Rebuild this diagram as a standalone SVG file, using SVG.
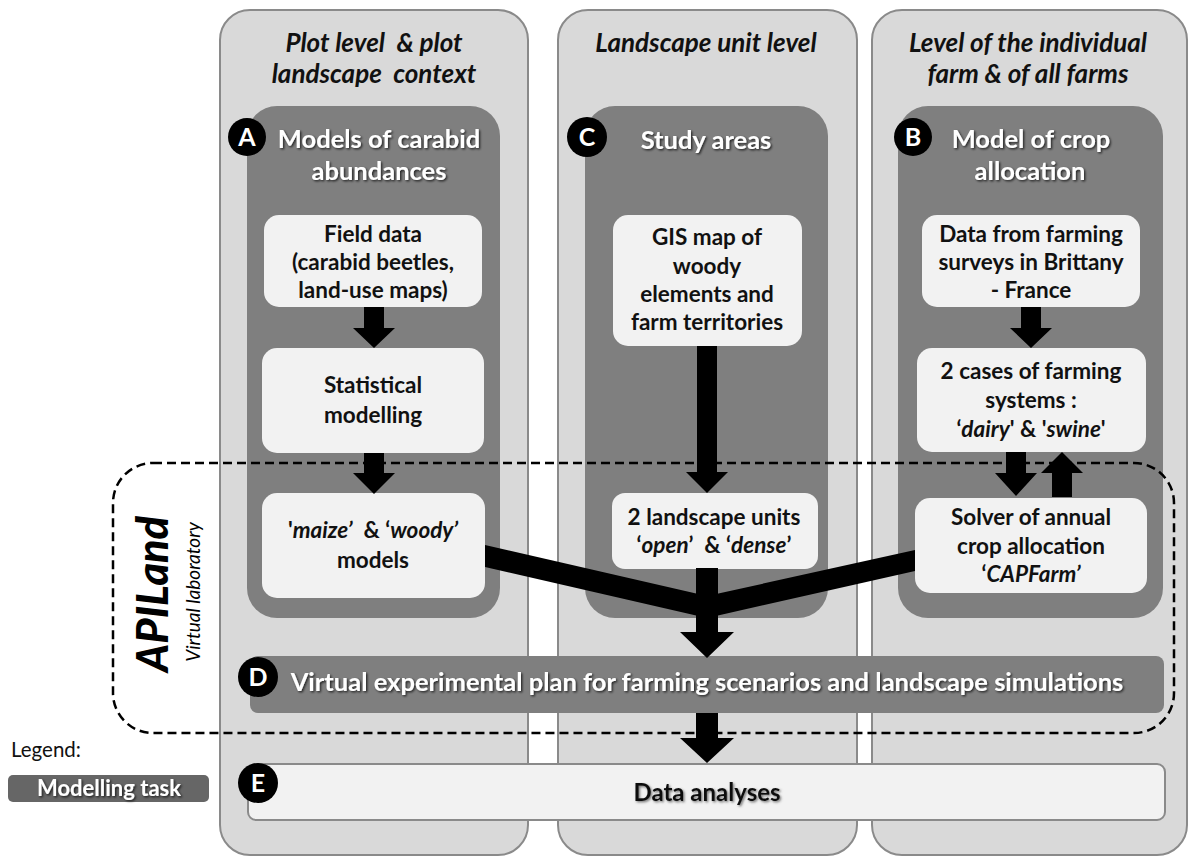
<svg xmlns="http://www.w3.org/2000/svg" width="1188" height="856" viewBox="0 0 1188 856">
<defs>
<style>
.col{fill:#d9d9d9;stroke:#8a8a8a;stroke-width:2}
.dark{fill:#7f7f7f}
.box{fill:#f2f2f2}
.ct{font-family:Lato,"Liberation Sans",sans-serif;font-style:italic;font-weight:bold;font-size:26px;fill:#111;text-anchor:middle}
.pt{font-family:Lato,"Liberation Sans",sans-serif;font-weight:bold;font-size:25.5px;fill:#fff;text-anchor:middle}
.bt{font-family:Lato,"Liberation Sans",sans-serif;font-weight:bold;font-size:22.5px;fill:#111;text-anchor:middle}
.it{font-style:italic}
.circ{fill:#000}
.lt{font-family:Lato,"Liberation Sans",sans-serif;font-weight:bold;font-size:25px;fill:#fff;text-anchor:middle}
.arr{fill:#000}
</style>
<filter id="sh" x="-10%" y="-30%" width="120%" height="160%">
<feDropShadow dx="1.3" dy="1.3" stdDeviation="0.9" flood-color="#000" flood-opacity="0.75"/>
</filter>
<filter id="shl" x="-10%" y="-30%" width="120%" height="160%">
<feDropShadow dx="1.3" dy="1.3" stdDeviation="0.9" flood-color="#555" flood-opacity="0.8"/>
</filter>
</defs>

<g id="col-plot">
<rect class="col" x="220" y="10" width="308" height="845" rx="30"/>
<text class="ct" x="374" y="52" xml:space="preserve">Plot level  &amp; plot</text>
<text class="ct" x="374" y="83" xml:space="preserve">landscape  context</text>
</g>
<g id="col-landscape">
<rect class="col" x="558" y="10" width="299" height="845" rx="30"/>
<text class="ct" x="706" y="52">Landscape unit level</text>
</g>
<g id="col-farm">
<rect class="col" x="872" y="10" width="315" height="845" rx="30"/>
<text class="ct" x="1028" y="52">Level of the individual</text>
<text class="ct" x="1028" y="83">farm &amp; of all farms</text>
</g>

<g id="panel-A">
<rect class="dark" x="247" y="106" width="253" height="512" rx="30"/>
<text class="pt" x="379" y="148" filter="url(#sh)">Models of carabid</text>
<text class="pt" x="379" y="180" filter="url(#sh)">abundances</text>
<circle class="circ" cx="247" cy="137" r="19"/>
<text class="lt" x="247" y="146">A</text>
</g>
<g id="panel-C">
<rect class="dark" x="585" y="106" width="243" height="512" rx="30"/>
<text class="pt" x="706" y="149" filter="url(#sh)">Study areas</text>
<circle class="circ" cx="587" cy="137" r="20"/>
<text class="lt" x="587" y="146">C</text>
</g>
<g id="panel-B">
<rect class="dark" x="898" y="106" width="265" height="512" rx="30"/>
<text class="pt" x="1031" y="148" filter="url(#sh)">Model of crop</text>
<text class="pt" x="1030" y="180" filter="url(#sh)">allocation</text>
<circle class="circ" cx="913" cy="137" r="19"/>
<text class="lt" x="913" y="146">B</text>
</g>

<g id="box-field-data">
<rect class="box" x="264" y="215" width="218" height="92" rx="15"/>
<text class="bt" x="373" y="242">Field data</text>
<text class="bt" x="373" y="270">(carabid beetles,</text>
<text class="bt" x="373" y="298">land-use maps)</text>
</g>
<g id="box-statistical">
<rect class="box" x="262" y="348" width="222" height="105" rx="15"/>
<text class="bt" x="373" y="393">Statistical</text>
<text class="bt" x="373" y="423">modelling</text>
</g>
<g id="box-maize">
<rect class="box" x="262" y="493" width="223" height="105" rx="15"/>
<text class="bt" x="373" y="538" xml:space="preserve">'<tspan class="it">maize’</tspan>  &amp; ‘<tspan class="it">woody’</tspan></text>
<text class="bt" x="373" y="568">models</text>
</g>

<g id="box-gis">
<rect class="box" x="613" y="215" width="189" height="131" rx="15"/>
<text class="bt" x="707" y="245">GIS map of</text>
<text class="bt" x="707" y="274">woody</text>
<text class="bt" x="707" y="302">elements and</text>
<text class="bt" x="707" y="330">farm territories</text>
</g>
<g id="box-landscape-units">
<rect class="box" x="612" y="493" width="206" height="76" rx="13"/>
<text class="bt" x="714" y="525">2 landscape units</text>
<text class="bt" x="714" y="553" xml:space="preserve">‘<tspan class="it">open</tspan>’  &amp; ‘<tspan class="it">dense</tspan>’</text>
</g>

<g id="box-surveys">
<rect class="box" x="922" y="215" width="218" height="92" rx="15"/>
<text class="bt" x="1031" y="242">Data from farming</text>
<text class="bt" x="1031" y="270">surveys in Brittany</text>
<text class="bt" x="1031" y="298">- France</text>
</g>
<g id="box-cases">
<rect class="box" x="917" y="348" width="229" height="104" rx="15"/>
<text class="bt" x="1031" y="379">2 cases of farming</text>
<text class="bt" x="1031" y="408">systems :</text>
<text class="bt" x="1031" y="437">‘<tspan class="it">dairy</tspan>' &amp; '<tspan class="it">swine</tspan>'</text>
</g>
<g id="box-solver">
<rect class="box" x="915" y="498" width="232" height="95" rx="15"/>
<text class="bt" x="1031" y="525">Solver of annual</text>
<text class="bt" x="1031" y="554">crop allocation</text>
<text class="bt" x="1031" y="582">‘<tspan class="it">CAPFarm’</tspan></text>
</g>

<g id="bar-D">
<rect class="dark" x="250" y="656" width="914" height="57" rx="8"/>
<text class="pt" x="707" y="691" filter="url(#sh)">Virtual experimental plan for farming scenarios and landscape simulations</text>
<circle class="circ" cx="258" cy="677" r="20"/>
<text class="lt" x="258" y="686">D</text>
</g>

<g id="bar-E">
<rect x="248" y="764" width="917" height="56" rx="8" fill="#f2f2f2" stroke="#8a8a8a" stroke-width="2"/>
<text class="bt" x="707" y="801" style="font-size:24px" filter="url(#shl)">Data analyses</text>
<circle class="circ" cx="258" cy="783" r="20"/>
<text class="lt" x="258" y="792">E</text>
</g>

<g id="apiland-frame">
<rect x="113" y="463" width="1061" height="270" rx="40" fill="none" stroke="#000" stroke-width="2.5" stroke-dasharray="9 5"/>
<text transform="translate(168,594) rotate(-90)" text-anchor="middle" style="font-family:Lato,'Liberation Sans',sans-serif;font-weight:900;font-style:italic;font-size:43px;fill:#000">APILand</text>
<text transform="translate(200,592) rotate(-90)" text-anchor="middle" style="font-family:Lato,'Liberation Sans',sans-serif;font-style:italic;font-size:19px;fill:#000">Virtual laboratory</text>
</g>

<g id="legend">
<text x="11" y="757" style="font-family:Lato,'Liberation Sans',sans-serif;font-size:20.5px;fill:#111">Legend:</text>
<rect x="8" y="775" width="201" height="27" rx="5" fill="#666"/>
<text x="109" y="796" text-anchor="middle" filter="url(#sh)" style="font-family:Lato,'Liberation Sans',sans-serif;font-weight:bold;font-size:22px;fill:#fff">Modelling task</text>
</g>

<g id="connectors">
<path class="arr" d="M364,307 H384 V328 H395 L374,348 L353,328 H364 Z"/>
<path class="arr" d="M364,453 H384 V473 H395 L374,494 L353,473 H364 Z"/>
<path class="arr" d="M697,346 H717 V472 H728 L707,493 L686,472 H697 Z"/>
<path class="arr" d="M1021,307 H1041 V328 H1052 L1031,348 L1010,328 H1021 Z"/>
<path class="arr" d="M1006,452 H1026 V473 H1037 L1016,496 L995,473 H1006 Z"/>
<path class="arr" d="M1052,497 H1072 V473 H1083 L1062,452 L1041,473 H1052 Z"/>
<path class="arr" d="M485,545 L707,596 L707,618 L485,567 Z"/>
<path class="arr" d="M915,550 L707,596 L707,618 L915,571 Z"/>
<path class="arr" d="M696,568 H718 V632 H734 L707,658 L680,632 H696 Z"/>
<path class="arr" d="M696,713 H718 V738 H734 L707,763 L680,738 H696 Z"/>
</g>
</svg>
